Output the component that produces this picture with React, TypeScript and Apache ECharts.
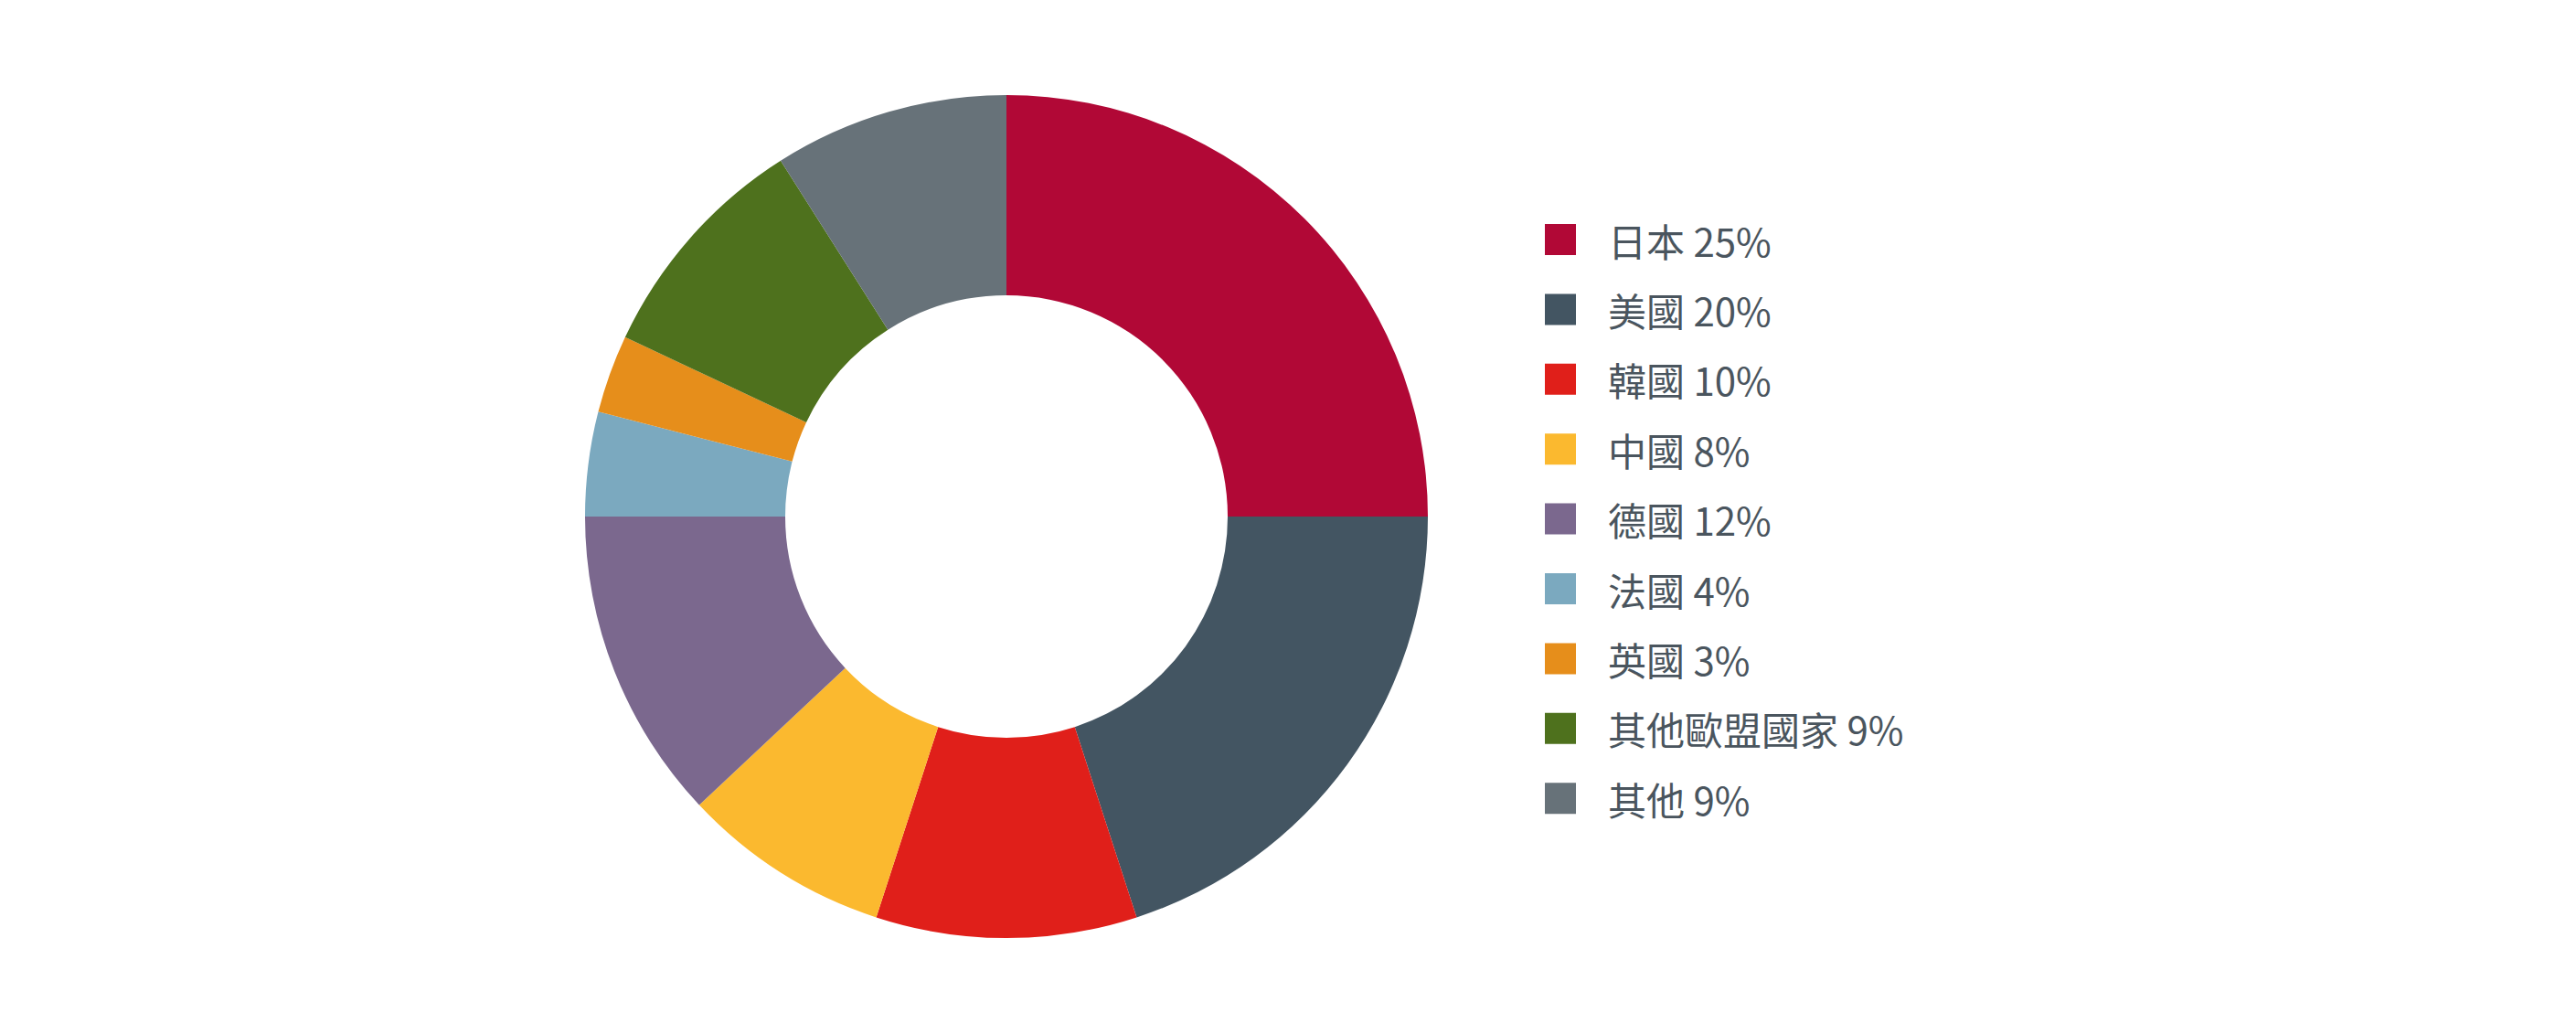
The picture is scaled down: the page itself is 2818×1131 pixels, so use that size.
import React, { useEffect, useRef } from "react";
import * as echarts from "echarts";

const categories = ["日本", "美國", "韓國", "中國", "德國", "法國", "英國", "其他歐盟國家", "其他"];
const shares = [25, 20, 10, 8, 12, 4, 3, 9, 9];
const colors = ["#B10836", "#435562", "#E01F1A", "#FBB92F", "#7B688E", "#7BA9BF", "#E68E1B", "#4E711D", "#677279"];

export default function App() {
  const ref = useRef<HTMLDivElement>(null);
  useEffect(() => {
    if (!ref.current) return;
    const chart = echarts.init(ref.current, undefined, { renderer: "svg" });
    const data = categories.map((name, i) => ({ name, value: shares[i], itemStyle: { color: colors[i] } }));
    chart.setOption({
      animation: false,
      backgroundColor: "#ffffff",
      legend: {
        orient: "vertical",
        left: 1685,
        top: 236,
        itemWidth: 34,
        itemHeight: 34,
        itemGap: 34.4,
        icon: "rect",
        selectedMode: false,
        data: categories,
        formatter: (name: string) => {
          const i = categories.indexOf(name);
          return `${name} ${shares[i]}%`;
        },
        textStyle: {
          fontFamily: "'Noto Sans CJK TC', 'Noto Sans', sans-serif",
          fontSize: 42,
          color: "#4A555E",
          lineHeight: 34,
          padding: [0, 0, 0, 30],
        },
      },
      series: [
        {
          type: "pie",
          center: [1101, 565],
          radius: [242, 461],
          startAngle: 90,
          clockwise: true,
          label: { show: false },
          labelLine: { show: false },
          emphasis: { disabled: true },
          itemStyle: { borderWidth: 0 },
          data,
        },
      ],
    });
    return () => chart.dispose();
  }, []);
  return <div ref={ref} style={{ position: "fixed", left: 0, top: 0, width: 2818, height: 1131 }} />;
}
